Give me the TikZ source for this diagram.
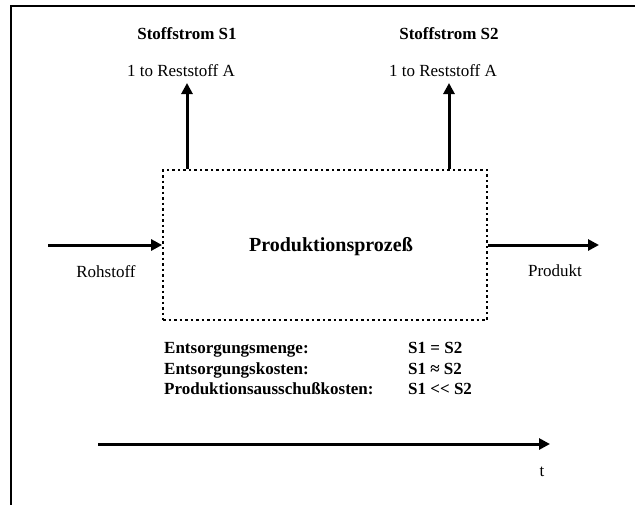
\documentclass[tikz,border=0pt]{standalone}
\usepackage{fontspec}
\setmainfont{Liberation Serif}
\usetikzlibrary{arrows.meta}

\tikzset{
  flow/.style={line width=3pt, -{Triangle[length=11pt,width=11pt]}},
  txt/.style={font=\fontsize{17}{20}\selectfont, inner sep=0pt, anchor=base},
  txtb/.style={txt, font=\fontsize{17}{20}\selectfont\bfseries},
  box/.style={draw, line width=1.8pt, dash pattern=on 2.5pt off 3pt, inner sep=0pt,
    minimum width=324pt, minimum height=150pt},
}

\begin{document}
\begin{tikzpicture}[x=1pt,y=-1pt]
    \useasboundingbox (0,0) rectangle (635,504);
    \begin{scope}
      \clip (0,0) rectangle (635,504);
      \draw[line width=2pt] (11,6) rectangle (660,530);
    \end{scope}
    % process block
    \node[box] (prozess) at (325,245) {};
    \node[txtb, font=\fontsize{20}{24}\selectfont\bfseries] (prozlbl) at (331,251) {Produktionsprozeß};
    % streams
    \node[txtb] (s1name) at (187,39) {Stoffstrom S1};
    \node[txt] (s1amt) at (181,76) {1 to Reststoff A};
    \node[txtb] (s2name) at (449,39) {Stoffstrom S2};
    \node[txt] (s2amt) at (443,76) {1 to Reststoff A};
    \coordinate (s1top) at (187,83);
    \coordinate (s2top) at (449,83);
    \draw[flow] (prozess.north -| s1top) -- (s1top);
    \draw[flow] (prozess.north -| s2top) -- (s2top);
    % input / output
    \coordinate (rohin) at (48,245);
    \coordinate (prodout) at (599,245);
    \draw[flow] (rohin) -- (prozess.west);
    \draw[flow] (prozess.east) -- (prodout);
    \node[txt] (roh) at (106,277) {Rohstoff};
    \node[txt] (prod) at (555,276) {Produkt};
    % comparison
    \node[txtb, anchor=base west] (k1) at (164,353) {Entsorgungsmenge:};
    \node[txtb, anchor=base west] (k2) at (164,374) {Entsorgungskosten:};
    \node[txtb, anchor=base west] (k3) at (164,394) {Produktionsausschußkosten:};
    \node[txtb, anchor=base west] (v1) at (408,353) {S1 = S2};
    \node[txtb, anchor=base west] (v2) at (408,374) {S1 ≈ S2};
    \node[txtb, anchor=base west] (v3) at (408,394) {S1 <\kern0pt< S2};
    % time axis
    \coordinate (t0) at (98,444);
    \coordinate (t1) at (550,444);
    \draw[flow] (t0) -- (t1);
    \node[txt] (tlbl) at (542,476) {t};
\end{tikzpicture}
\end{document}
